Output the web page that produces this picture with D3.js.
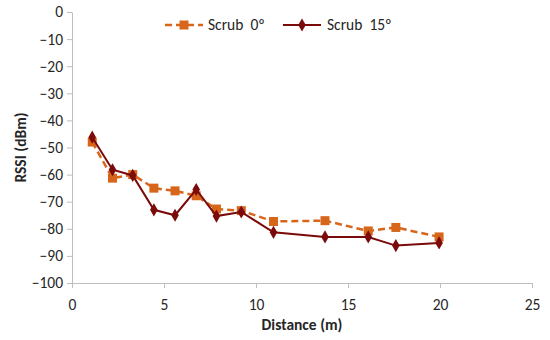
<!DOCTYPE html>
<html>
<head>
<meta charset="utf-8">
<script src="https://cdn.jsdelivr.net/npm/d3@7"></script>
<style>
  body { margin: 0; background: #fff; }
  svg { font-family: Carlito, "Open Sans", "Liberation Sans", sans-serif; }
</style>
</head>
<body>
<svg id="chart" width="550" height="340"></svg>
<script>
// Data
const distance = [1.1, 2.2, 3.3, 4.45, 5.6, 6.75, 7.85, 9.2, 10.95, 13.75, 16.1, 17.6, 19.95];
const scrub0 = [-48, -61.3, -60, -65, -66, -67.8, -72.7, -73.3, -77.3, -77, -80.8, -79.5, -83];
const scrub15 = [-46.2, -58.2, -60.3, -73, -75, -65.5, -75.3, -73.8, -81.3, -83, -83, -86.2, -85.2];
const xTicks = [0, 5, 10, 15, 20, 25];
const yTicks = [0, -10, -20, -30, -40, -50, -60, -70, -80, -90, -100];

const seriesNames = ['Scrub\u00a0\u00a00º', 'Scrub\u00a0\u00a015º'];
const seriesColors = ['#D8661A', '#7B0A0A'];

const margin = { top: 12, right: 18, bottom: 57, left: 72 };
const width = 550, height = 340;
const innerW = width - margin.left - margin.right;
const innerH = height - margin.top - margin.bottom;

const svg = d3.select('#chart');
const g = svg.append('g').attr('transform', `translate(${margin.left},${margin.top})`);

const x = d3.scaleLinear().domain([0, 25]).range([0, innerW]);
const y = d3.scaleLinear().domain([-100, 0]).range([innerH, 0]);

// Axes
const xAxis = g.append('g')
  .attr('transform', `translate(0,${innerH})`)
  .call(d3.axisBottom(x).tickValues(xTicks).tickSize(5).tickSizeOuter(0));
const yAxis = g.append('g')
  .call(d3.axisLeft(y).tickValues(yTicks).tickSize(5).tickSizeOuter(0));

[xAxis, yAxis].forEach(a => {
  a.select('.domain').attr('stroke', '#bfbfbf');
  a.selectAll('.tick line').attr('stroke', '#bfbfbf');
  a.selectAll('.tick text')
    .attr('fill', '#262626')
    .attr('font-size', '15.5px')
    .attr('font-family', 'Carlito, "Open Sans", "Liberation Sans", sans-serif');
});
xAxis.selectAll('.tick text').attr('dy', '1.2em');
yAxis.selectAll('.tick text').attr('x', -9);

// Axis titles
svg.append('text')
  .attr('x', margin.left + innerW / 2)
  .attr('y', 330)
  .attr('text-anchor', 'middle')
  .attr('font-size', '15.5px')
  .attr('font-weight', 'bold')
  .attr('fill', '#262626')
  .text('Distance (m)');

svg.append('text')
  .attr('transform', `translate(26,${margin.top + innerH / 2}) rotate(-90)`)
  .attr('text-anchor', 'middle')
  .attr('font-size', '15.5px')
  .attr('font-weight', 'bold')
  .attr('fill', '#262626')
  .text('RSSI (dBm)');

const line = d3.line().x(d => x(d[0])).y(d => y(d[1]));
const pts0 = distance.map((d, i) => [d, scrub0[i]]);
const pts15 = distance.map((d, i) => [d, scrub15[i]]);

// Scrub 0 - dashed orange with squares
g.append('path')
  .datum(pts0)
  .attr('fill', 'none')
  .attr('stroke', seriesColors[0])
  .attr('stroke-width', 2.5)
  .attr('stroke-dasharray', '7,4')
  .attr('d', line);

g.selectAll('.sq')
  .data(pts0)
  .enter().append('rect')
  .attr('x', d => x(d[0]) - 4.5)
  .attr('y', d => y(d[1]) - 4.5)
  .attr('width', 9)
  .attr('height', 9)
  .attr('fill', seriesColors[0]);

// Scrub 15 - solid dark red with diamonds
g.append('path')
  .datum(pts15)
  .attr('fill', 'none')
  .attr('stroke', seriesColors[1])
  .attr('stroke-width', 2)
  .attr('d', line);

const diamond = d3.symbol().type(d3.symbolDiamond).size(50);
g.selectAll('.dm')
  .data(pts15)
  .enter().append('path')
  .attr('transform', d => `translate(${x(d[0])},${y(d[1])})`)
  .attr('d', diamond)
  .attr('fill', seriesColors[1]);

// Legend
const legend = svg.append('g');
const legendX = [165, 283];
const textX = [208, 327];
seriesNames.forEach((name, i) => {
  const lg = legend.append('g');
  lg.append('line')
    .attr('x1', legendX[i]).attr('x2', legendX[i] + 38)
    .attr('y1', 25).attr('y2', 25)
    .attr('stroke', seriesColors[i])
    .attr('stroke-width', i === 0 ? 2.5 : 2)
    .attr('stroke-dasharray', i === 0 ? '7,4' : null);
  if (i === 0) {
    lg.append('rect')
      .attr('x', legendX[i] + 19 - 4.5).attr('y', 25 - 4.5)
      .attr('width', 9).attr('height', 9)
      .attr('fill', seriesColors[i]);
  } else {
    lg.append('path')
      .attr('transform', `translate(${legendX[i] + 19},25)`)
      .attr('d', diamond)
      .attr('fill', seriesColors[i]);
  }
  lg.append('text')
    .attr('x', textX[i])
    .attr('y', 30)
    .attr('font-size', '15.5px')
    .attr('fill', '#262626')
    .text(name);
});
</script>
</body>
</html>
